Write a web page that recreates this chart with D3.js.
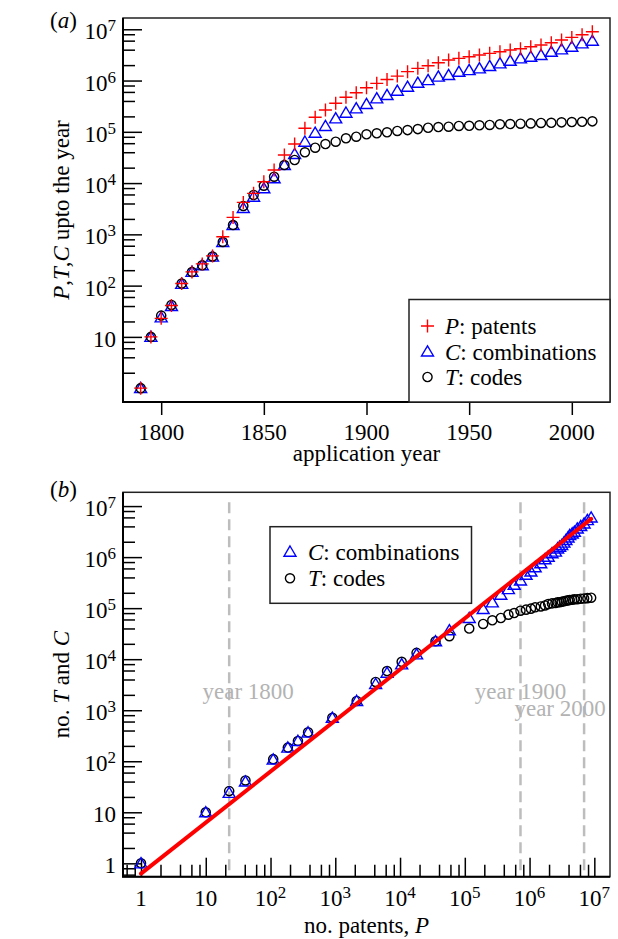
<!DOCTYPE html>
<html>
<head>
<meta charset="utf-8">
<script src="https://cdn.jsdelivr.net/npm/d3@7"></script>
<style>
  body { margin: 0; background: #fff; }
  svg { display: block; }
  text { font-family: "Liberation Serif", "Times New Roman", serif; fill: #000; }
</style>
</head>
<body>
<div id="chart"></div>
<script>
// cumulative counts up to each application year
const years = [1790, 1795, 1800, 1805, 1810, 1815, 1820, 1825, 1830, 1835,
    1840, 1845, 1850, 1855, 1860, 1865, 1870, 1875, 1880, 1885,
    1890, 1895, 1900, 1905, 1910, 1915, 1920, 1925, 1930, 1935,
    1940, 1945, 1950, 1955, 1960, 1965, 1970, 1975, 1980, 1985,
    1990, 1995, 2000, 2005, 2010];
const patents = [1, 10, 23, 41, 110, 185, 265, 380, 900, 2140,
    4200, 6300, 10600, 18000, 35300, 57800, 117000, 192000, 266000, 360000,
    471000, 578000, 724000, 882000, 1050000, 1220000, 1490000, 1730000, 1940000, 2220000,
    2510000, 2710000, 2910000, 3140000, 3390000, 3640000, 3930000, 4170000, 4560000, 4920000,
    5460000, 6170000, 6950000, 7810000, 8930000];
const combinations = [1, 10, 24, 40, 108, 185, 250, 367, 711, 1520,
    3270, 5430, 7920, 12400, 22500, 36900, 64200, 96000, 130000, 183000,
    236000, 287000, 348000, 450000, 521000, 632000, 757000, 906000, 1020000, 1190000,
    1280000, 1480000, 1600000, 1730000, 1920000, 2160000, 2430000, 2710000, 2910000, 3140000,
    3640000, 4060000, 4560000, 5310000, 5970000];
const codes = [1, 10, 26, 42, 110, 185, 250, 370, 711, 1520,
    3580, 5860, 8900, 13300, 22500, 28200, 39800, 49000, 57800, 64100,
    74600, 80200, 89300, 93500, 97800, 104000, 108000, 113000, 120000, 124000,
    126000, 130000, 131000, 134000, 136000, 140000, 142000, 144000, 146000, 149000,
    150000, 153000, 155000, 157000, 160000];

const yearTicks = [1800, 1850, 1900, 1950, 2000];
const markedYears = [1800, 1900, 2000];
// power-law fit C = a * P^b
const fitCoef = 0.63;
const fitExp = 1.0;

const width = 618, height = 939;
const fs = 23, supFs = 17;

const svg = d3.select("#chart").append("svg")
    .attr("width", width)
    .attr("height", height);

// marker shapes
const plus = { draw(ctx, size) { const r = Math.sqrt(size) / 2;
    ctx.moveTo(-r, 0); ctx.lineTo(r, 0); ctx.moveTo(0, -r); ctx.lineTo(0, r); } };
const tri = { draw(ctx, size) { const r = Math.sqrt(size) / 2;
    ctx.moveTo(0, -r * 0.95); ctx.lineTo(r, r * 0.75); ctx.lineTo(-r, r * 0.75); ctx.closePath(); } };
const markers = {
    P: { path: d3.symbol(plus, 169)(), color: "#ff0000" },
    C: { path: d3.symbol(tri, 144)(), color: "#0000ff" },
    T: { path: d3.symbol(d3.symbolCircle, 66)(), color: "#000" }
};

function logTicks(scale, minMajor) {
    const [lo, hi] = scale.domain();
    const major = [], minor = [];
    for (let k = Math.floor(Math.log10(lo)); k <= Math.ceil(Math.log10(hi)); k++) {
        const p = Math.pow(10, k);
        if (p >= lo && p <= hi && p >= minMajor) major.push(p);
        [2, 4, 6, 8].forEach(m => {
            const v = m * p;
            if (v >= lo && v <= hi && v >= minMajor / 10 * 2 - 1e-9) minor.push(v);
        });
    }
    return { major, minor };
}

function powerLabel(sel, v) {
    const e = Math.round(Math.log10(v));
    if (e === 0) sel.text("1");
    else if (e === 1) sel.text("10");
    else {
        sel.append("tspan").text("10");
        sel.append("tspan").attr("dy", -8).attr("font-size", supFs).text(e);
    }
}

function richText(sel, parts) {
    parts.forEach(p => {
        sel.append("tspan")
            .attr("font-style", p[1] ? "italic" : "normal")
            .text(p[0]);
    });
}

function drawMarks(g, xs, ys, key) {
    const m = markers[key];
    g.append("g").selectAll("path")
        .data(xs.map((d, i) => [d, ys[i]]))
        .join("path")
        .attr("transform", d => `translate(${d[0]},${d[1]})`)
        .attr("d", m.path)
        .attr("fill", "none")
        .attr("stroke", m.color)
        .attr("stroke-width", 1.4);
}

function drawFrame(box) {
    svg.append("rect")
        .attr("x", box.x0).attr("y", box.y0)
        .attr("width", box.x1 - box.x0).attr("height", box.y1 - box.y0)
        .attr("fill", "none").attr("stroke", "#222").attr("stroke-width", 1.5);
    svg.append("path")
        .attr("d", `M${box.x0},${box.y0}V${box.y1}H${box.x1}`)
        .attr("fill", "none").attr("stroke", "#000").attr("stroke-width", 2);
}

function drawLegend(box, items) {
    svg.append("rect")
        .attr("x", box.x0).attr("y", box.y0)
        .attr("width", box.x1 - box.x0).attr("height", box.y1 - box.y0)
        .attr("fill", "#fff").attr("stroke", "#222").attr("stroke-width", 1.5);
    items.forEach((it, i) => {
        const cy = box.first + i * box.step;
        svg.append("path")
            .attr("transform", `translate(${box.mx},${cy})`)
            .attr("d", markers[it.key].path)
            .attr("fill", "none")
            .attr("stroke", markers[it.key].color)
            .attr("stroke-width", 1.4);
        svg.append("text")
            .attr("x", box.tx).attr("y", cy + 8)
            .attr("font-size", fs)
            .call(richText, [[it.key, true], [": " + it.label, false]]);
    });
}

// ---------- panel (a) ----------
const boxA = { x0: 123, x1: 610, y0: 18, y1: 402 };
const xA = d3.scaleLinear().domain([1781.4, 2018.6]).range([boxA.x0, boxA.x1]);
const yA = d3.scaleLog().domain([Math.pow(10, -0.27), Math.pow(10, 7.22)]).range([boxA.y1, boxA.y0]);

const ticksA = logTicks(yA, 10);
ticksA.minor = ticksA.minor.filter(v => v > 1);

svg.append("g").attr("transform", `translate(${boxA.x0},0)`)
    .call(d3.axisLeft(yA).tickValues(ticksA.minor).tickSize(-12).tickFormat(""))
    .call(g => g.select(".domain").remove())
    .selectAll("line").attr("stroke-width", 1.5);
svg.append("g").attr("transform", `translate(${boxA.x0},0)`)
    .call(d3.axisLeft(yA).tickValues(ticksA.major).tickSize(-19).tickFormat(""))
    .call(g => g.select(".domain").remove())
    .selectAll("line").attr("stroke-width", 1.5);
svg.append("g").attr("transform", `translate(0,${boxA.y1})`)
    .call(d3.axisBottom(xA).tickValues(yearTicks).tickSize(13).tickFormat(""))
    .call(g => g.select(".domain").remove())
    .selectAll("line").attr("stroke-width", 1.5);

svg.append("g").selectAll("text")
    .data(ticksA.major)
    .join("text")
    .attr("x", boxA.x0 - 7)
    .attr("y", d => yA(d) + 10)
    .attr("text-anchor", "end")
    .attr("font-size", fs)
    .each(function(d) { powerLabel(d3.select(this), d); });

svg.append("g").selectAll("text")
    .data(yearTicks)
    .join("text")
    .attr("x", d => xA(d))
    .attr("y", boxA.y1 + 37.5)
    .attr("text-anchor", "middle")
    .attr("font-size", fs)
    .text(d => d);

const gA = svg.append("g");
drawMarks(gA, years.map(xA), combinations.map(yA), "C");
drawMarks(gA, years.map(xA), codes.map(yA), "T");
drawMarks(gA, years.map(xA), patents.map(yA), "P");

drawFrame(boxA);
drawLegend({ x0: 409, x1: 610, y0: 299.5, y1: 402, mx: 427.5, tx: 445, first: 326, step: 25.5 }, [
    { key: "P", label: "patents" },
    { key: "C", label: "combinations" },
    { key: "T", label: "codes" }
]);

svg.append("text")
    .attr("x", (boxA.x0 + boxA.x1) / 2).attr("y", 461)
    .attr("text-anchor", "middle").attr("font-size", fs)
    .text("application year");
svg.append("text")
    .attr("transform", `translate(69,${(boxA.y0 + boxA.y1) / 2}) rotate(-90)`)
    .attr("text-anchor", "middle").attr("font-size", fs)
    .call(richText, [["P", true], [",", false], ["T", true], [",", false], ["C", true], [" upto the year", false]]);
svg.append("text")
    .attr("x", 50).attr("y", 28).attr("font-size", fs)
    .call(richText, [["(", false], ["a", true], [")", false]]);

// ---------- panel (b) ----------
const boxB = { x0: 123, x1: 610, y0: 492.3, y1: 876.7 };
const xB = d3.scaleLog().domain([Math.pow(10, -0.278), Math.pow(10, 7.242)]).range([boxB.x0, boxB.x1]);
const yB = d3.scaleLog().domain([Math.pow(10, -0.262), Math.pow(10, 7.27)]).range([boxB.y1, boxB.y0]);

const ticksBx = logTicks(xB, 1);
const ticksBy = logTicks(yB, 1);
ticksBx.minor = logTicks(xB, 1e-9).minor;
ticksBy.minor = logTicks(yB, 1e-9).minor;

// year markers (P reached at that year)
const yearP = markedYears.map(yr => patents[years.indexOf(yr)]);
svg.append("g").selectAll("line")
    .data(yearP)
    .join("line")
    .attr("x1", d => xB(d)).attr("x2", d => xB(d))
    .attr("y1", boxB.y0 + 10).attr("y2", boxB.y1)
    .attr("stroke", "#bdbdbd")
    .attr("stroke-width", 2.5)
    .attr("stroke-dasharray", "11,6");

const yearLabelPos = [{ dx: 19, y: 699 }, { dx: 0, y: 699 }, { dx: -24, y: 716 }];
svg.append("g").selectAll("text")
    .data(markedYears)
    .join("text")
    .attr("x", (d, i) => xB(yearP[i]) + yearLabelPos[i].dx)
    .attr("y", (d, i) => yearLabelPos[i].y)
    .attr("text-anchor", "middle")
    .attr("font-size", fs)
    .style("fill", "#b3b3b3")
    .text(d => "year " + d);

svg.append("g").attr("transform", `translate(${boxB.x0},0)`)
    .call(d3.axisLeft(yB).tickValues(ticksBy.minor).tickSize(-12).tickFormat(""))
    .call(g => g.select(".domain").remove())
    .selectAll("line").attr("stroke-width", 1.5);
svg.append("g").attr("transform", `translate(${boxB.x0},0)`)
    .call(d3.axisLeft(yB).tickValues(ticksBy.major).tickSize(-19).tickFormat(""))
    .call(g => g.select(".domain").remove())
    .selectAll("line").attr("stroke-width", 1.5);
svg.append("g").attr("transform", `translate(0,${boxB.y1})`)
    .call(d3.axisBottom(xB).tickValues(ticksBx.minor).tickSize(-12).tickFormat(""))
    .call(g => g.select(".domain").remove())
    .selectAll("line").attr("stroke-width", 1.5);
svg.append("g").attr("transform", `translate(0,${boxB.y1})`)
    .call(d3.axisBottom(xB).tickValues(ticksBx.major).tickSize(-19).tickFormat(""))
    .call(g => g.select(".domain").remove())
    .selectAll("line").attr("stroke-width", 1.5);

svg.append("g").selectAll("text")
    .data(ticksBy.major)
    .join("text")
    .attr("x", boxB.x0 - 7)
    .attr("y", d => yB(d) + 10)
    .attr("text-anchor", "end")
    .attr("font-size", fs)
    .each(function(d) { powerLabel(d3.select(this), d); });

svg.append("g").selectAll("text")
    .data(ticksBx.major)
    .join("text")
    .attr("x", d => xB(d))
    .attr("y", boxB.y1 + 29.5)
    .attr("text-anchor", "middle")
    .attr("font-size", fs)
    .each(function(d) { powerLabel(d3.select(this), d); });

const gB = svg.append("g");
drawMarks(gB, patents.map(xB), codes.map(yB), "T");
drawMarks(gB, patents.map(xB), combinations.map(yB), "C");

const fitLine = d3.line()
    .x(d => xB(d))
    .y(d => yB(fitCoef * Math.pow(d, fitExp)));
svg.append("path")
    .datum([1, d3.max(patents)])
    .attr("d", fitLine)
    .attr("fill", "none")
    .attr("stroke", "#ff0000")
    .attr("stroke-width", 4)
    .attr("stroke-linecap", "round");

drawFrame(boxB);
drawLegend({ x0: 270, x1: 471.5, y0: 526.7, y1: 603.3, mx: 290, tx: 308, first: 551.7, step: 26.6 }, [
    { key: "C", label: "combinations" },
    { key: "T", label: "codes" }
]);

svg.append("text")
    .attr("x", (boxB.x0 + boxB.x1) / 2).attr("y", 933)
    .attr("text-anchor", "middle").attr("font-size", fs)
    .call(richText, [["no. patents, ", false], ["P", true]]);
svg.append("text")
    .attr("transform", `translate(69,${(boxB.y0 + boxB.y1) / 2}) rotate(-90)`)
    .attr("text-anchor", "middle").attr("font-size", fs)
    .call(richText, [["no. ", false], ["T", true], [" and ", false], ["C", true]]);
svg.append("text")
    .attr("x", 50).attr("y", 497).attr("font-size", fs)
    .call(richText, [["(", false], ["b", true], [")", false]]);
</script>
</body>
</html>
